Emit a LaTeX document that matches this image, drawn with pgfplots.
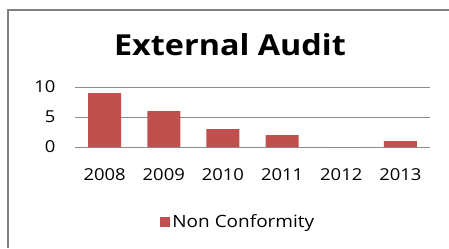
\documentclass[border=0pt]{standalone}
\usepackage{pgfplots}
\pgfplotsset{compat=1.18}
\usepackage{fontspec}
\setmainfont{Open Sans}[FakeStretch=1.12]
\definecolor{barred}{HTML}{C0504D}
\begin{document}
\begin{tikzpicture}[x=1bp,y=1bp]
\path[use as bounding box] (0,0) rectangle (449,248);
\draw[color=black!50, line width=1.5bp] (8,0) -- (8,238) -- (449,238);
\node[font=\fontsize{29}{32}\selectfont\bfseries] at (230,203) {External Audit};
\begin{axis}[
  at={(75bp,101bp)}, anchor=south west,
  scale only axis, width=355bp, height=60bp,
  xmin=-0.5, xmax=5.5, ymin=0, ymax=10,
  ybar, bar width=33bp,
  xtick={0,1,2,3,4,5},
  xticklabels={2008,2009,2010,2011,2012,2013},
  ytick={0,5,10},
  ymajorgrids, grid style={black!45, line width=0.8bp},
  axis x line*=bottom, axis y line*=left,
  x axis line style={black!45, line width=0.8bp},
  y axis line style={draw=none},
  major tick length=0pt,
  tick label style={font=\fontsize{16.5}{18}\selectfont},
  /pgf/number format/assume math mode=true,
  yticklabel style={xshift=-16bp},
  xticklabel style={yshift=-18bp},
  legend style={at={(0.46,-1.25)}, anchor=center, draw=none,
    font=\fontsize{17}{18}\selectfont},
  legend image code/.code={\fill[barred] (0bp,-5bp) rectangle (10bp,5bp);},
]
\addplot[fill=barred, draw=none] coordinates {(0,9) (1,6) (2,3) (3,2) (4,0) (5,1)};
\addlegendentry{Non Conformity}
\end{axis}
\end{tikzpicture}
\end{document}
